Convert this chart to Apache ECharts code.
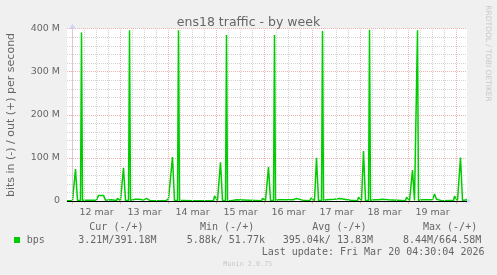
<!DOCTYPE html>
<html><head><meta charset="utf-8">
<script src="https://cdn.jsdelivr.net/npm/echarts@6/dist/echarts.min.js"></script>
<style>html,body{margin:0;padding:0;background:#F0F0F0;}#c{width:497px;height:275px;}</style>
</head><body><div id="c"></div>
<script>
// hours since 12 mar 00:00
const sampleHours = [-2.75,-1.5,-1,-0.5,0,0.5,1.5,2.5,3,4,4.5,5,7,12,13,15.5,16.5,19.5,20,22,22.5,23.5,24,24.5,25.5,26.5,28,28.5,29,30,31.5,33.5,34,35.5,36,37,37.5,39,44,46.5,47,48,48.5,49,50,51,52.5,53,53.5,55,60,70.5,71,72,72.5,73,74,75,76.5,77,77.5,79.5,80,82,82.5,94.5,95,96,96.5,97,98,99,100.5,101,101.5,103,105,105.5,106.5,109,109.5,110.5,112,113,115,116,118.5,119.5,120.5,121,122,123,124.5,125,125.5,127,131,132,133.5,134,139,140,142.5,143,144,144.5,145.5,146.5,148,148.5,149,151,152,153,155,156,158,159,166.5,167,168,168.5,170,171,172,172.5,173,175,180,181,182,183,185,189,190,190.5,191,192,192.5,193,194,195,196,197.25];
// out traffic, Mbit/s
const outMbits = [0.5,0.5,5,5,1,1,74,1,2,1,391,1,2,2,13,13,2,3,1,1,6,6,1,1,77,1,1,396,1,1.5,4,4,1.5,2,6,6,1.5,0.5,0.3,0.5,5,5,1,1,102,1,1,396,1,1,0.5,0.3,12,12,1,1,90,1,1,385,1,0.5,3,3,0.5,0.3,6,6,1,1,79,1,1,385,1,3,3,6,3,3,6,3,6,3,2,0.3,0.5,7,7,1,100,1,1,394,1,3,4,6,6,2,2,0.3,0.5,9,9,1,116,1,1,397,1,3,5,3,4,3,3,0.3,0.5,9,9,1,72,1,1,396,1,3,3,16,4,2,0.3,1,5,0.5,11,11,1,1,101,1,2,3];
const dayLabels = ['12 mar','13 mar','14 mar','15 mar','16 mar','17 mar','18 mar','19 mar'];
const yTickValues = [0, 100, 200, 300, 400]; // in M
const seriesName = 'bps';
const legendHeaders = ['Cur (-/+)', 'Min (-/+)', 'Avg (-/+)', 'Max (-/+)'];
const legendValues = ['3.21M/391.18M', '5.88k/ 51.77k', '395.04k/ 13.83M', '8.44M/664.58M'];
const titleText = 'ens18 traffic - by week';
const yName = 'bits in (-) / out (+) per second';
const lastUpdate = 'Last update: Fri Mar 20 04:30:04 2026';
const watermark = 'RRDTOOL / TOBI OETIKER';
const versionText = 'Munin 2.0.75';

const X_MIN = -2.75, X_MAX = 197.25;
const dayTicks = [];
for (let i = 0; i <= dayLabels.length; i++) dayTicks.push(i * 24);
const sixTicks = [];
for (let h = 6; h < X_MAX; h += 6) if (h % 24 !== 0) sixTicks.push(h);
const labelTicks = dayLabels.map((_, i) => i * 24 + 12);

const data = sampleHours.map((h, i) => [h, outMbits[i] * 1e6]);

const TXT = '#666666';
const MGRID = '#f0b4b4';
const GRID = '#d4d4d4';
const AXISC = '#CFD6F8';

const chart = echarts.init(document.getElementById('c'), null, {renderer: 'canvas'});
const hdrX = [89.3, 200, 312.3, 423];
const valX = [78.3, 186.7, 282.7, 403];
const graphics = [];
legendHeaders.forEach((t, i) => graphics.push({type: 'text', x: hdrX[i], y: 227.5, style: {text: t, fill: TXT, font: '10px "DejaVu Sans Mono"', textVerticalAlign: 'middle'}}));
legendValues.forEach((t, i) => graphics.push({type: 'text', x: valX[i], y: 240, style: {text: t, fill: TXT, font: '10px "DejaVu Sans Mono"', textVerticalAlign: 'middle'}}));
graphics.push({type: 'rect', shape: {x: 14, y: 237, width: 6, height: 6}, style: {fill: '#00CC00'}});
graphics.push({type: 'text', x: 26.7, y: 240, style: {text: seriesName, fill: TXT, font: '10px "DejaVu Sans Mono"', textVerticalAlign: 'middle'}});
graphics.push({type: 'text', x: 261.7, y: 252, style: {text: lastUpdate, fill: TXT, font: '10px "DejaVu Sans Mono"', textVerticalAlign: 'middle'}});
graphics.push({type: 'text', x: 223.3, y: 264, style: {text: versionText, fill: '#c8c8c8', font: '6.8px "DejaVu Sans Mono"', textVerticalAlign: 'middle'}});
graphics.push({type: 'text', x: 488, y: 53.5, rotation: -Math.PI / 2, style: {text: watermark, fill: '#c8c8c8', font: '7.5px "DejaVu Sans"', textAlign: 'center', textVerticalAlign: 'middle'}});
graphics.push({type: 'text', x: 11.5, y: 115, rotation: Math.PI / 2, style: {text: yName, fill: TXT, font: '11px "DejaVu Sans"', textAlign: 'center', textVerticalAlign: 'middle'}});

function vGrid(values, color, z) {
  return {
    type: 'line', data: [], xAxisIndex: 0, yAxisIndex: 0, z: z, silent: true,
    markLine: {silent: true, symbol: 'none', animation: false, label: {show: false},
      lineStyle: {color: color, type: 'dotted', width: 1},
      data: values.map(v => ({xAxis: v}))}
  };
}

chart.setOption({
  backgroundColor: '#F0F0F0',
  animation: false,
  title: {text: titleText, left: 'center', top: 11, textStyle: {fontFamily: 'DejaVu Sans', fontSize: 12.5, fontWeight: 'normal', color: TXT}},
  grid: {left: 67, right: 30, top: 28.5, bottom: 74, show: true, backgroundColor: '#FFFFFF', borderWidth: 0},
  xAxis: [{
    type: 'value', min: X_MIN, max: X_MAX,
    axisLine: {show: true, lineStyle: {color: AXISC, width: 1}, symbol: ['none', 'arrow'], symbolSize: [5, 6], symbolOffset: [0, 4]},
    axisTick: {show: true, customValues: dayTicks, length: 3, lineStyle: {color: MGRID}},
    axisLabel: {customValues: labelTicks, margin: 7, color: TXT, fontFamily: 'DejaVu Sans', fontSize: 9.5,
      formatter: v => dayLabels[Math.round((v - 12) / 24)]},
    splitLine: {show: false}
  }, {
    type: 'value', min: X_MIN, max: X_MAX, position: 'bottom',
    axisLine: {show: false},
    axisTick: {show: true, customValues: sixTicks, length: 2, lineStyle: {color: GRID}},
    axisLabel: {show: false},
    splitLine: {show: false}
  }],
  yAxis: {
    type: 'value', min: 0, max: 400e6, interval: 100e6,
    axisLine: {show: true, lineStyle: {color: AXISC, width: 1}, symbol: ['none', 'arrow'], symbolSize: [5, 6], symbolOffset: [0, 5]},
    axisTick: {show: true, length: 2, lineStyle: {color: MGRID}},
    axisLabel: {margin: 7, color: TXT, fontFamily: 'DejaVu Sans', fontSize: 9.5,
      formatter: v => { const m = Math.round(v / 1e6); return yTickValues.indexOf(m) === 0 ? '0' : m + ' M'; }},
    splitLine: {show: true, lineStyle: {color: MGRID, type: 'dotted', width: 1}},
    minorTick: {show: false, splitNumber: 5},
    minorSplitLine: {show: true, lineStyle: {color: GRID, type: 'dotted', width: 1}}
  },
  series: [
    vGrid(sixTicks, GRID, 1),
    vGrid(dayTicks, MGRID, 1),
    {
      name: seriesName, type: 'line', data: data, xAxisIndex: 0, showSymbol: false, symbol: 'none', z: 3,
      lineStyle: {color: '#00CC00', width: 1.5}, itemStyle: {color: '#00CC00'}, clip: true,
      markLine: {silent: true, symbol: 'none', label: {show: false}, lineStyle: {color: '#000000', type: 'solid', width: 1}, data: [{yAxis: 0}]}
    }
  ],
  graphic: graphics
});
</script></body></html>
